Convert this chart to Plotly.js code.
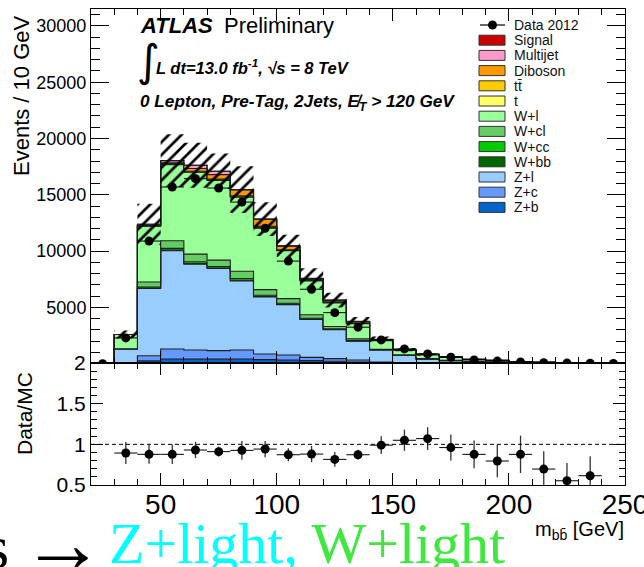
<!DOCTYPE html>
<html>
<head>
<meta charset="utf-8">
<script src="https://cdn.plot.ly/plotly-3.0.1.min.js"></script>
<style>
  html, body { margin: 0; padding: 0; background: #ffffff; }
  #chart { width: 644px; height: 567px; }
</style>
</head>
<body>
<div id="chart"></div>
<script>
// m_bb distribution, 10 GeV bins from 20 to 250 GeV
const binCenters = [25, 35, 45, 55, 65, 75, 85, 95, 105, 115, 125, 135, 145, 155, 165, 175, 185, 195, 205, 215, 225, 235, 245];

// background components (events per bin), stacked bottom to top
const zb        = [0, 40, 250, 420, 400, 400, 420, 360, 330, 270, 210, 150, 80, 50, 30, 20, 15, 10, 8, 5, 4, 3, 2];
const zc        = [0, 60, 450, 890, 820, 760, 800, 500, 440, 290, 240, 180, 70, 50, 30, 20, 15, 10, 8, 5, 4, 3, 2];
const zl        = [0, 1210, 5970, 8720, 7620, 7290, 6130, 5060, 4470, 3370, 2560, 1670, 1070, 640, 360, 230, 150, 110, 70, 50, 40, 30, 22];
const wbb       = [0, 5, 40, 60, 60, 50, 60, 40, 30, 30, 20, 15, 5, 5, 5, 2, 2, 1, 1, 1, 0, 0, 0];
const wcc       = [0, 5, 100, 150, 150, 130, 150, 120, 100, 80, 60, 45, 15, 10, 5, 5, 3, 2, 2, 1, 1, 1, 1];
const wcl       = [0, 10, 450, 680, 680, 570, 650, 500, 410, 310, 210, 140, 30, 25, 20, 13, 10, 7, 5, 4, 3, 2, 1];
const wl        = [0, 1260, 4950, 6760, 7270, 7080, 6580, 5540, 4250, 3000, 2090, 1340, 780, 420, 350, 280, 170, 140, 80, 60, 45, 34, 25];
const singleTop = [0, 0, 20, 30, 30, 40, 40, 30, 30, 40, 50, 40, 20, 10, 5, 5, 3, 2, 1, 1, 1, 0, 0];
const ttbar     = [0, 0, 30, 60, 60, 70, 80, 60, 60, 90, 110, 100, 50, 20, 10, 10, 7, 5, 3, 2, 1, 1, 1];
const diboson   = [0, 0, 10, 80, 250, 400, 540, 620, 330, 80, 80, 70, 30, 20, 5, 15, 5, 3, 2, 1, 1, 1, 1];
const multijet  = [0, 5, 110, 180, 280, 300, 0, 0, 0, 0, 0, 0, 0, 0, 0, 0, 0, 0, 0, 0, 0, 0, 0];
const signal    = [0, 0, 1, 2, 3, 4, 6, 8, 11, 14, 13, 9, 5, 3, 2, 1, 1, 0, 0, 0, 0, 0, 0];

// MC systematic uncertainty (half width of the hatched band)
const mcError   = [0, 360, 1820, 2350, 2000, 1570, 2080, 1490, 980, 890, 650, 380, 260, 150, 100, 70, 45, 35, 25, 18, 14, 11, 8];

// observed data
const data2012  = [0, 2290, 10890, 15690, 16430, 15600, 14350, 12030, 9110, 6610, 4530, 3240, 2110, 1310, 870, 570, 330, 230, 155, 90, 55, 46, 25];

// Data/MC ratio panel
const ratioCenters = [35, 45, 55, 65, 75, 85, 95, 105, 115, 125, 135, 145, 155, 165, 175, 185, 195, 205, 215, 225, 235];
const ratioValues  = [0.893, 0.877, 0.877, 0.93, 0.91, 0.926, 0.942, 0.872, 0.88, 0.815, 0.872, 0.99, 1.05, 1.07, 0.96, 0.877, 0.795, 0.877, 0.696, 0.552, 0.614];
const ratioErrors  = [0.135, 0.115, 0.12, 0.1, 0.06, 0.115, 0.1, 0.08, 0.1, 0.09, 0.06, 0.11, 0.13, 0.14, 0.16, 0.17, 0.2, 0.23, 0.22, 0.22, 0.24];

// stack order (bottom first) with fill colours
const components = [
  { name: 'Z+b',      values: zb,        color: '#0066cc' },
  { name: 'Z+c',      values: zc,        color: '#6699ff' },
  { name: 'Z+l',      values: zl,        color: '#99ccff' },
  { name: 'W+bb',     values: wbb,       color: '#006600' },
  { name: 'W+cc',     values: wcc,       color: '#00cc00' },
  { name: 'W+cl',     values: wcl,       color: '#66cc66' },
  { name: 'W+l',      values: wl,        color: '#99ff99' },
  { name: 't',        values: singleTop, color: '#ffff66' },
  { name: 't\u0074\u0304', values: ttbar, color: '#ffcc00' },
  { name: 'Diboson',  values: diboson,   color: '#ff9900' },
  { name: 'Multijet', values: multijet,  color: '#ff99cc' },
  { name: 'Signal',   values: signal,    color: '#cc0000' }
];

// frame geometry in pixels
const W = 644, H = 567;
const FL = 91, FR = 625, FT = 9, FB = 485, SPLIT = 363;
const px = x => (x - FL) / (FR - FL);
const py = y => (FB - y) / (FB - FT);

const binWidth = 10;
const edges = binCenters.map(c => c - binWidth / 2).concat([binCenters[binCenters.length - 1] + binWidth / 2]);
const stepY = arr => arr.concat([arr[arr.length - 1]]);

const traces = [];
let cumulative = binCenters.map(() => 0);
components.forEach((comp, i) => {
  cumulative = cumulative.map((v, k) => v + comp.values[k]);
  traces.push({
    type: 'scatter', mode: 'lines', x: edges, y: stepY(cumulative),
    line: { shape: 'hv', color: '#1e1e1e', width: 1.1 },
    fill: i === 0 ? 'tozeroy' : 'tonexty', fillcolor: comp.color,
    xaxis: 'x', yaxis: 'y', showlegend: false, hoverinfo: 'skip'
  });
});
const total = cumulative;

// hatched uncertainty band
traces.push({
  type: 'scatter', mode: 'lines', x: edges, y: stepY(total.map((v, k) => Math.max(v - mcError[k], 0))),
  line: { shape: 'hv', width: 0, color: 'rgba(0,0,0,0)' },
  xaxis: 'x', yaxis: 'y', showlegend: false, hoverinfo: 'skip'
});
traces.push({
  type: 'scatter', mode: 'lines', x: edges, y: stepY(total.map((v, k) => v + mcError[k])),
  line: { shape: 'hv', width: 0, color: 'rgba(0,0,0,0)' },
  fill: 'tonexty', fillcolor: 'rgba(0,0,0,0)',
  fillpattern: { shape: '/', fgcolor: '#000000', bgcolor: 'rgba(0,0,0,0)', size: 9, solidity: 0.3 },
  xaxis: 'x', yaxis: 'y', showlegend: false, hoverinfo: 'skip'
});

// data points
traces.push({
  type: 'scatter', mode: 'markers', x: binCenters, y: data2012,
  marker: { color: '#000000', size: 9 },
  error_x: { type: 'constant', value: binWidth / 2, width: 0, thickness: 1, color: '#000000' },
  xaxis: 'x', yaxis: 'y', showlegend: false
});

// ratio
traces.push({
  type: 'scatter', mode: 'markers', x: ratioCenters, y: ratioValues,
  marker: { color: '#000000', size: 9 },
  error_x: { type: 'constant', value: binWidth / 2, width: 0, thickness: 1, color: '#000000' },
  error_y: { type: 'data', array: ratioErrors, width: 0, thickness: 1.3, color: '#333333' },
  xaxis: 'x2', yaxis: 'y2', showlegend: false
});

const sans = 'Liberation Sans, Arial, Helvetica, sans-serif';
const serif = 'Liberation Serif, Times New Roman, serif';

const shapes = [
  { type: 'line', xref: 'x2', yref: 'y2', x0: 20, x1: 250, y0: 1, y1: 1,
    line: { color: '#000000', width: 1, dash: '4px,3px' } }
];
const annotations = [];

// legend, drawn as boxes and labels in the top-right corner
const legendTop = 25, legendStep = 15.2, boxL = 479, boxR = 505, textX = 512;
shapes.push({ type: 'line', xref: 'paper', yref: 'paper', x0: px(480), x1: px(505), y0: py(legendTop), y1: py(legendTop),
  line: { color: '#000000', width: 1.2 } });
shapes.push({ type: 'circle', xref: 'paper', yref: 'paper', x0: px(488), x1: px(497), y0: py(legendTop - 4.5), y1: py(legendTop + 4.5),
  fillcolor: '#000000', line: { color: '#000000', width: 0 } });
annotations.push({ xref: 'paper', yref: 'paper', x: px(textX), y: py(legendTop), xanchor: 'left', yanchor: 'middle',
  text: 'Data 2012', showarrow: false, font: { family: sans, size: 14, color: '#111111' } });
components.slice().reverse().forEach((comp, i) => {
  const yc = legendTop + legendStep * (i + 1);
  shapes.push({ type: 'rect', xref: 'paper', yref: 'paper', x0: px(boxL), x1: px(boxR), y0: py(yc + 5), y1: py(yc - 5),
    fillcolor: comp.color, line: { color: '#333333', width: 1 } });
  annotations.push({ xref: 'paper', yref: 'paper', x: px(textX), y: py(yc), xanchor: 'left', yanchor: 'middle',
    text: comp.name, showarrow: false, font: { family: sans, size: 14, color: '#111111' } });
});

// experiment labels
annotations.push({ xref: 'paper', yref: 'paper', x: px(138), y: py(26), xanchor: 'left', yanchor: 'middle',
  text: '<b><i>ATLAS</i></b>', showarrow: false, font: { family: sans, size: 22, color: '#000000' } });
annotations.push({ xref: 'paper', yref: 'paper', x: px(222), y: py(26), xanchor: 'left', yanchor: 'middle',
  text: 'Preliminary', showarrow: false, font: { family: sans, size: 22, color: '#000000' } });
annotations.push({ xref: 'paper', yref: 'paper', x: px(135), y: py(61), xanchor: 'left', yanchor: 'middle',
  text: '\u222B', showarrow: false, font: { family: 'DejaVu Sans, sans-serif', size: 44, color: '#000000' } });
annotations.push({ xref: 'paper', yref: 'paper', x: px(154), y: py(67), xanchor: 'left', yanchor: 'middle',
  text: '<b><i>L dt=13.0 fb<sup>-1</sup>, \u221As = 8 TeV</i></b>', showarrow: false, font: { family: sans, size: 16.5, color: '#000000' } });
annotations.push({ xref: 'paper', yref: 'paper', x: px(138), y: py(103), xanchor: 'left', yanchor: 'middle',
  text: '<b><i>0 Lepton, Pre-Tag, 2Jets, E\u0338<sub>T</sub> > 120 GeV</i></b>', showarrow: false, font: { family: sans, size: 17.2, color: '#000000' } });

// axis titles
annotations.push({ xref: 'paper', yref: 'paper', x: px(21), y: py(96), xanchor: 'center', yanchor: 'middle', textangle: -90,
  text: 'Events / 10 GeV', showarrow: false, font: { family: sans, size: 22, color: '#000000' } });
annotations.push({ xref: 'paper', yref: 'paper', x: px(24), y: py(414), xanchor: 'center', yanchor: 'middle', textangle: -90,
  text: 'Data/MC', showarrow: false, font: { family: sans, size: 21, color: '#000000' } });
annotations.push({ xref: 'paper', yref: 'paper', x: px(626), y: py(530), xanchor: 'right', yanchor: 'middle',
  text: 'm<sub>b\u0062\u0304</sub> [GeV]', showarrow: false, font: { family: sans, size: 20, color: '#000000' } });

// caption line along the bottom
annotations.push({ xref: 'paper', yref: 'paper', x: px(11), y: py(547), xanchor: 'right', yanchor: 'middle',
  text: 's', showarrow: false, font: { family: serif, size: 62, color: '#000000' } });
annotations.push({ xref: 'paper', yref: 'paper', x: px(63), y: py(543), xanchor: 'center', yanchor: 'middle',
  text: '\u2192', showarrow: false, font: { family: serif, size: 84, color: '#000000' } });
annotations.push({ xref: 'paper', yref: 'paper', x: px(107), y: py(543), xanchor: 'left', yanchor: 'middle',
  text: '<span style="color:#00ffff">Z+light,</span> <span style="color:#3ee83e">W+light</span>',
  showarrow: false, font: { family: serif, size: 58, color: '#000000' } });

const xCommon = {
  range: [20, 250], dtick: 50, tick0: 0, ticks: 'inside', ticklen: 12, tickwidth: 1, tickcolor: '#000000',
  minor: { dtick: 10, tick0: 0, ticks: 'inside', ticklen: 6, tickwidth: 1, tickcolor: '#000000', showgrid: false },
  showline: true, linecolor: '#000000', linewidth: 1, mirror: 'ticks', showgrid: false, zeroline: false,
  fixedrange: true
};

const layout = {
  width: W, height: H,
  margin: { l: FL, r: W - FR, t: FT, b: H - FB, pad: 0 },
  paper_bgcolor: '#ffffff', plot_bgcolor: '#ffffff',
  showlegend: false,
  xaxis: Object.assign({}, xCommon, { anchor: 'y', domain: [0, 1], showticklabels: false, matches: 'x2' }),
  xaxis2: Object.assign({}, xCommon, { anchor: 'y2', domain: [0, 1], ticklabeloverflow: 'allow',
    ticklabelstandoff: -6, tickfont: { family: sans, size: 28, color: '#000000' } }),
  yaxis: {
    anchor: 'x', domain: [py(SPLIT), 1], range: [60, 31500], dtick: 5000, tick0: 0, tickformat: 'd',
    ticks: 'inside', ticklen: 18, tickwidth: 1, tickcolor: '#000000',
    minor: { dtick: 1000, tick0: 0, ticks: 'inside', ticklen: 9, tickwidth: 1, tickcolor: '#000000', showgrid: false },
    showline: true, linecolor: '#000000', linewidth: 1, mirror: 'ticks', showgrid: false, zeroline: false,
    tickfont: { family: sans, size: 18, color: '#000000' }, fixedrange: true
  },
  yaxis2: {
    anchor: 'x2', domain: [0, py(SPLIT)], range: [0.5, 2], dtick: 0.5, tick0: 0,
    ticks: 'inside', ticklen: 12, tickwidth: 1, tickcolor: '#000000',
    minor: { dtick: 0.1, tick0: 0, ticks: 'inside', ticklen: 6, tickwidth: 1, tickcolor: '#000000', showgrid: false },
    showline: true, linecolor: '#000000', linewidth: 1, mirror: 'ticks', showgrid: false, zeroline: false,
    tickfont: { family: sans, size: 21, color: '#000000' }, fixedrange: true
  },
  shapes: shapes,
  annotations: annotations
};

Plotly.newPlot('chart', traces, layout, { staticPlot: true, displayModeBar: false });
</script>
</body>
</html>
